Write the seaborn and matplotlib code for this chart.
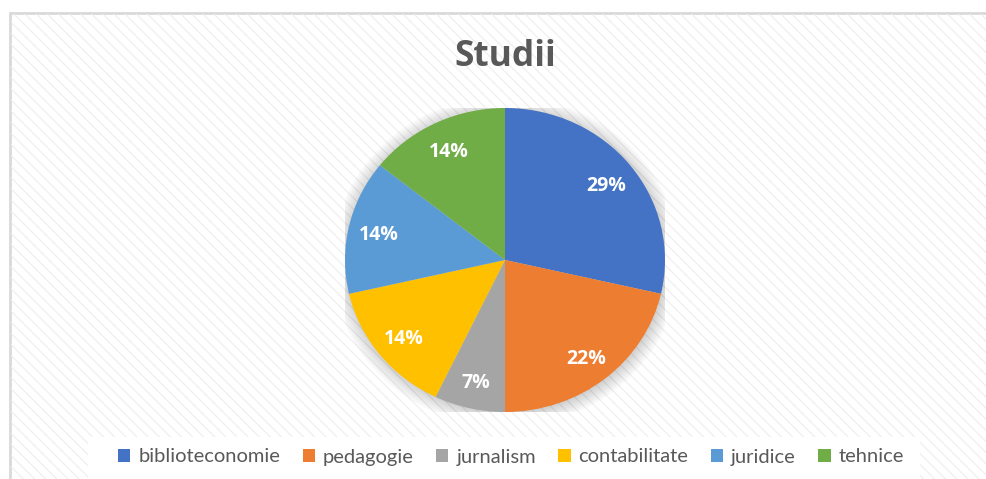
import matplotlib
matplotlib.use('Agg')
import matplotlib.pyplot as plt
import seaborn as sns
import numpy as np
from matplotlib.patches import Rectangle, Patch, Ellipse

# data (slice sizes estimated from the angles: 4/3/1/2/2/2 of 14)
categories = ['biblioteconomie', 'pedagogie', 'jurnalism', 'contabilitate', 'juridice', 'tehnice']
counts = [4, 3, 1, 2, 2, 2]
pct_labels = ['29%', '22%', '7%', '14%', '14%', '14%']
slice_colors = ['#4472C4', '#ED7D31', '#A5A5A5', '#FFC000', '#5B9BD5', '#70AD47']
chart_title = 'Studii'

W, H = 986, 479


def make_pie():
    sns.set_theme(style='white')
    plt.rcParams['font.family'] = ['Open Sans', 'DejaVu Sans']
    plt.rcParams['hatch.linewidth'] = 0.9

    palette = sns.color_palette(slice_colors)
    fig = plt.figure(figsize=(W / 100, H / 100), dpi=100)
    fig.patch.set_facecolor('white')

    # chart area: light border on top/left, striped fill
    frame = Rectangle((10 / W, -0.2), 2, (H - 13) / H + 0.2, transform=fig.transFigure,
                      facecolor='white', edgecolor='#d9d9d9', lw=2, zorder=0)
    fig.patches.append(frame)
    stripes = Rectangle((11 / W, -0.2), 2, (H - 14) / H + 0.2, transform=fig.transFigure,
                        facecolor='none', edgecolor='#efefef', lw=0, hatch='\\\\\\', zorder=0.5)
    fig.patches.append(stripes)
    # white box behind the legend
    legend_box = Rectangle((88 / W, -0.1), (920 - 88) / W, (H - 437) / H + 0.1,
                           transform=fig.transFigure, facecolor='white', edgecolor='none', zorder=0.8)
    fig.patches.append(legend_box)

    rx, ry = 160, 152
    cx, cy = 505, H - 260
    ax = fig.add_axes([(cx - rx) / W, (cy - ry) / H, 2 * rx / W, 2 * ry / H])
    ax.set_facecolor('none')
    ax.set_zorder(2)

    # soft shadow around the pie
    for k in range(9):
        ax.add_patch(Ellipse((0.005, -0.01), 2 * (1.0 + 0.011 * k), 2 * (1.0 + 0.011 * k),
                             color='#000000', alpha=0.018, lw=0, zorder=0))

    wedges, _ = ax.pie(counts, colors=palette, startangle=90, counterclock=False,
                       radius=1.0, wedgeprops=dict(linewidth=0))
    for w, lab in zip(wedges, pct_labels):
        w.set_zorder(2)
        ang = np.deg2rad((w.theta1 + w.theta2) / 2)
        ax.text(0.81 * np.cos(ang), 0.81 * np.sin(ang), lab, ha='center', va='center_baseline',
                color='white', fontweight='bold', fontsize=14, zorder=3)
    ax.set_xlim(-1.0, 1.0)
    ax.set_ylim(-1.0, 1.0)
    ax.set_aspect('auto')
    ax.axis('off')

    fig.text(505 / W, 1 - 57 / H, chart_title, ha='center', va='center',
             fontsize=25.5, fontweight='bold', color='#595959', zorder=3)

    handles = [Patch(facecolor=c, edgecolor='none') for c in palette]
    leg = fig.legend(handles, categories, loc='center', bbox_to_anchor=(511 / W, 1 - 457 / H),
                     ncol=6, frameon=False, handlelength=0.6, handleheight=0.6,
                     handletextpad=0.4, columnspacing=1.12,
                     prop={'family': ['Lato', 'DejaVu Sans'], 'size': 14.5})
    leg.set_zorder(3)
    for t in leg.get_texts():
        t.set_color('#595959')

    fig.savefig('out.png', dpi=100, facecolor=fig.get_facecolor())
    return fig


if __name__ == '__main__':
    make_pie()
